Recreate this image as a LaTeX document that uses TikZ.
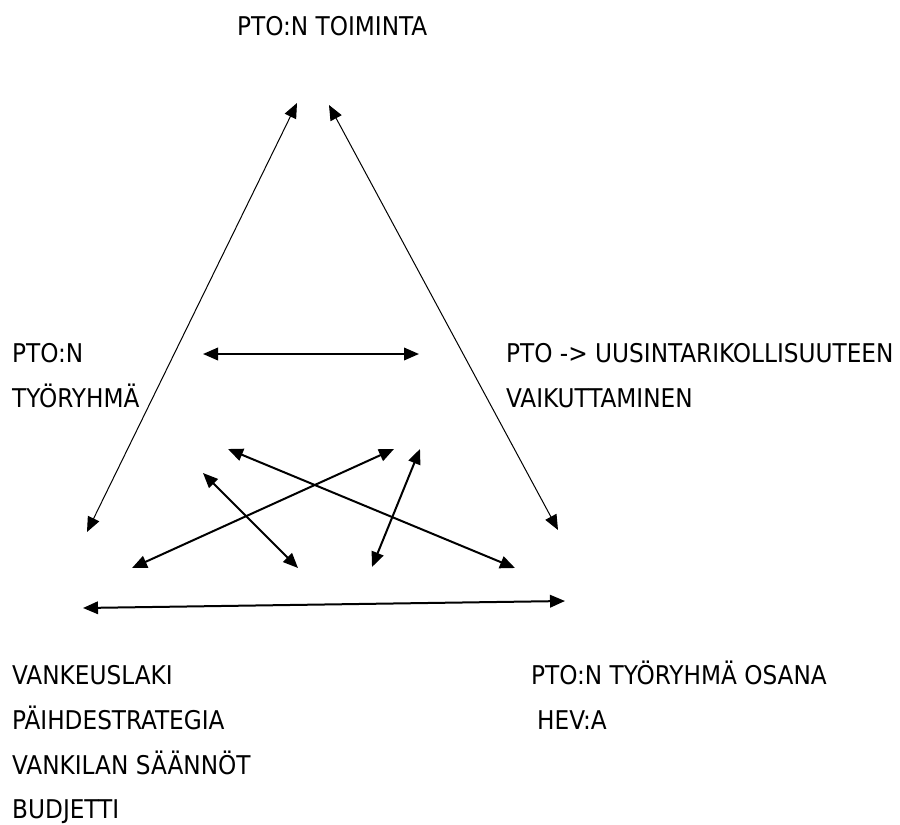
\documentclass[tikz,border=0pt]{standalone}
\usepackage{fontspec}
\setmainfont{DejaVu Sans Condensed}
\usetikzlibrary{arrows.meta}

\tikzset{
  lbl/.style={anchor=base west, inner sep=0pt, font=\fontsize{25.8}{30}\selectfont},
  longarr/.style={{Triangle[length=15pt,width=12.5pt]}-{Triangle[length=15pt,width=12.5pt]}, line width=1pt},
  shortarr/.style={{Triangle[length=15pt,width=12.5pt]}-{Triangle[length=15pt,width=12.5pt]}, line width=2pt},
}

\begin{document}
\begin{tikzpicture}[x=1pt, y=-1pt]
      \useasboundingbox (0,0) rectangle (900,825);
      % texts
      \node[lbl] (toiminta) at (237,35) {PTO:N TOIMINTA};
      \node[lbl] (pton) at (12,362) {PTO:N};
      \node[lbl] (tyoryhma) at (12,407) {TYÖRYHMÄ};
      \node[lbl] (uusinta) at (506,362) {PTO -> UUSINTARIKOLLISUUTEEN};
      \node[lbl] (vaikutt) at (506,407) {VAIKUTTAMINEN};
      \node[lbl] (vankeus) at (12,684) {VANKEUSLAKI};
      \node[lbl] (paihde) at (12,729) {PÄIHDESTRATEGIA};
      \node[lbl] (saannot) at (12,774) {VANKILAN SÄÄNNÖT};
      \node[lbl] (budjetti) at (12,818) {BUDJETTI};
      \node[lbl] (osana) at (531,684) {PTO:N TYÖRYHMÄ OSANA};
      \node[lbl] (hev) at (537,729) {HEV:A};
      % arrow ends
      \coordinate (topL) at (297,103);
      \coordinate (topR) at (329,105);
      \coordinate (botL) at (87,532);
      \coordinate (botR) at (558,530);
      \coordinate (midL) at (203,354);
      \coordinate (midR) at (419,354);
      \coordinate (baseL) at (83,608);
      \coordinate (baseR) at (565,601);
      \coordinate (aL) at (228,449);
      \coordinate (aR) at (515,568);
      \coordinate (bL) at (132,568);
      \coordinate (bR) at (394,449);
      \coordinate (cL) at (203,473);
      \coordinate (cR) at (298,568);
      \coordinate (dT) at (420,449);
      \coordinate (dB) at (372,567);
      % arrows
      \draw[longarr] (topL) -- (botL);
      \draw[longarr] (topR) -- (botR);
      \draw[shortarr] (midL) -- (midR);
      \draw[shortarr] (aL) -- (aR);
      \draw[shortarr] (bL) -- (bR);
      \draw[shortarr] (cL) -- (cR);
      \draw[shortarr] (dT) -- (dB);
      \draw[shortarr] (baseL) -- (baseR);
\end{tikzpicture}
\end{document}
